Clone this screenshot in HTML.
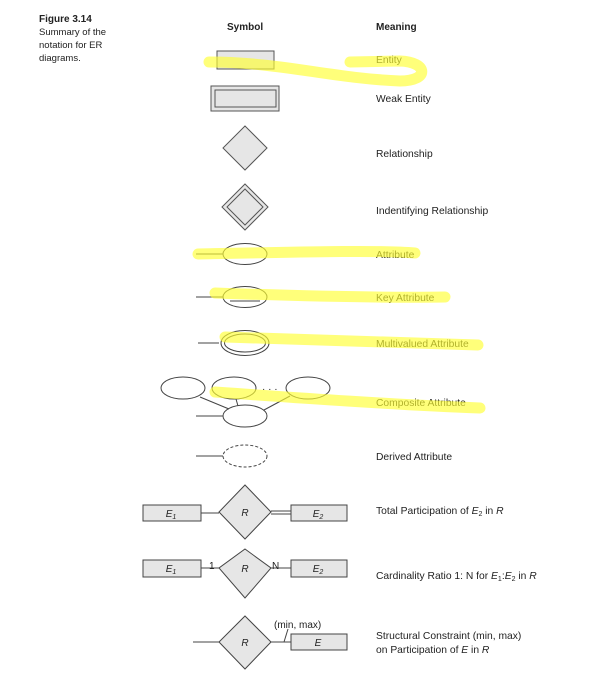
<!DOCTYPE html>
<html><head><style>
body{margin:0;background:#fff;width:593px;height:678px;overflow:hidden}
svg text{font-family:"Liberation Sans",sans-serif;fill:#222}
</style></head><body>
<svg width="593" height="678" viewBox="0 0 593 678" xmlns="http://www.w3.org/2000/svg">
<g font-size="9.5">
<text x="39" y="22" font-weight="bold" font-size="10">Figure 3.14</text>
<text x="39" y="35">Summary of the</text>
<text x="39" y="48">notation for ER</text>
<text x="39" y="61">diagrams.</text>
</g>
<g font-size="10" font-weight="bold">
<text x="227" y="30">Symbol</text>
<text x="376" y="30">Meaning</text>
</g>
<g stroke="#555" stroke-width="1" fill="#e6e6e6">
<rect x="217" y="51" width="57" height="18"/>
<rect x="211" y="86" width="68" height="25"/>
<rect x="215" y="90" width="61" height="17"/>
<polygon points="245,126 267,148 245,170 223,148"/>
<polygon points="245,184 268,207 245,230 222,207"/>
<polygon points="245,189 263,207 245,225 227,207"/>
</g>
<g stroke="#444" stroke-width="1" fill="none">
<line x1="196" y1="254" x2="223" y2="254"/>
<ellipse cx="245" cy="254" rx="22" ry="10.5"/>
<line x1="196" y1="297" x2="223" y2="297"/>
<ellipse cx="245" cy="297" rx="22" ry="10.5"/>
<line x1="230" y1="301" x2="260" y2="301"/>
<line x1="198" y1="343" x2="219" y2="343"/>
<ellipse cx="245" cy="343" rx="24" ry="12.5"/>
<ellipse cx="245" cy="343" rx="20.5" ry="9"/>
<ellipse cx="183" cy="388" rx="22" ry="11"/>
<ellipse cx="234" cy="388" rx="22" ry="11"/>
<ellipse cx="308" cy="388" rx="22" ry="11"/>
<ellipse cx="245" cy="416" rx="22" ry="11"/>
<line x1="196" y1="416" x2="223" y2="416"/>
<line x1="200" y1="397" x2="229" y2="409"/>
<line x1="236" y1="399" x2="238" y2="406"/>
<line x1="290" y1="396" x2="264" y2="410"/>
<line x1="196" y1="456" x2="223" y2="456"/>
<ellipse cx="245" cy="456" rx="22" ry="11" stroke-dasharray="3,2"/>
</g>
<text x="262" y="392" font-size="10">· · ·</text>
<g stroke="#444" stroke-width="1" fill="#e6e6e6">
<line x1="201" y1="513" x2="219" y2="513"/>
<line x1="271" y1="511" x2="291" y2="511"/><line x1="271" y1="514" x2="291" y2="514"/>
<rect x="143" y="505" width="58" height="16"/>
<rect x="291" y="505" width="56" height="16"/>
<polygon points="245,485 271,512 245,539 219,512"/>
<line x1="201" y1="568" x2="219" y2="568"/>
<line x1="271" y1="568" x2="291" y2="568"/>
<rect x="143" y="560" width="58" height="17"/>
<rect x="291" y="560" width="56" height="17"/>
<polygon points="245,549 271,568 245,598 219,568"/>
<line x1="193" y1="642" x2="219" y2="642"/>
<line x1="271" y1="642" x2="291" y2="642"/>
<line x1="284" y1="642" x2="288" y2="629"/>
<rect x="291" y="634" width="56" height="16"/>
<polygon points="245,616 271,642 245,669 219,642"/>
</g>
<g font-size="10" font-style="italic" text-anchor="middle">
<text x="171" y="517">E<tspan font-size="7" dy="2">1</tspan></text>
<text x="318" y="517">E<tspan font-size="7" dy="2">2</tspan></text>
<text x="245" y="516">R</text>
<text x="171" y="572">E<tspan font-size="7" dy="2">1</tspan></text>
<text x="318" y="572">E<tspan font-size="7" dy="2">2</tspan></text>
<text x="245" y="572">R</text>
<text x="245" y="646">R</text>
<text x="318" y="646">E</text>
</g>
<g font-size="10">
<text x="209" y="569">1</text>
<text x="272" y="569">N</text>
<text x="274" y="628">(min, max)</text>
</g>
<g font-size="10.3">
<text x="376" y="63">Entity</text>
<text x="376" y="102">Weak Entity</text>
<text x="376" y="157">Relationship</text>
<text x="376" y="214">Indentifying Relationship</text>
<text x="376" y="258">Attribute</text>
<text x="376" y="301">Key Attribute</text>
<text x="376" y="347">Multivalued Attribute</text>
<text x="376" y="406">Composite Attribute</text>
<text x="376" y="460">Derived Attribute</text>
<text x="376" y="514">Total Participation of <tspan font-style="italic">E</tspan><tspan font-size="7" dy="2">2</tspan><tspan dy="-2"> in </tspan><tspan font-style="italic">R</tspan></text>
<text x="376" y="579">Cardinality Ratio 1: N for <tspan font-style="italic">E</tspan><tspan font-size="7" dy="2">1</tspan><tspan dy="-2">:</tspan><tspan font-style="italic">E</tspan><tspan font-size="7" dy="2">2</tspan><tspan dy="-2"> in </tspan><tspan font-style="italic">R</tspan></text>
<text x="376" y="639">Structural Constraint (min, max)</text>
<text x="376" y="653">on Participation of <tspan font-style="italic">E</tspan> in <tspan font-style="italic">R</tspan></text>
</g>
<g stroke="#ffff33" stroke-opacity="0.65" stroke-width="11" fill="none" stroke-linecap="round">
<path d="M209,62 C280,62 330,78 400,81 C430,81 428,62 400,61 L350,62"/>
<path d="M198,254 C300,252 380,250 415,253"/>
<path d="M215,293 C300,296 380,298 445,297"/>
<path d="M225,337 C320,340 400,343 478,345"/>
<path d="M215,392 C300,398 400,405 480,408"/>
</g>
</svg>
</body></html>
